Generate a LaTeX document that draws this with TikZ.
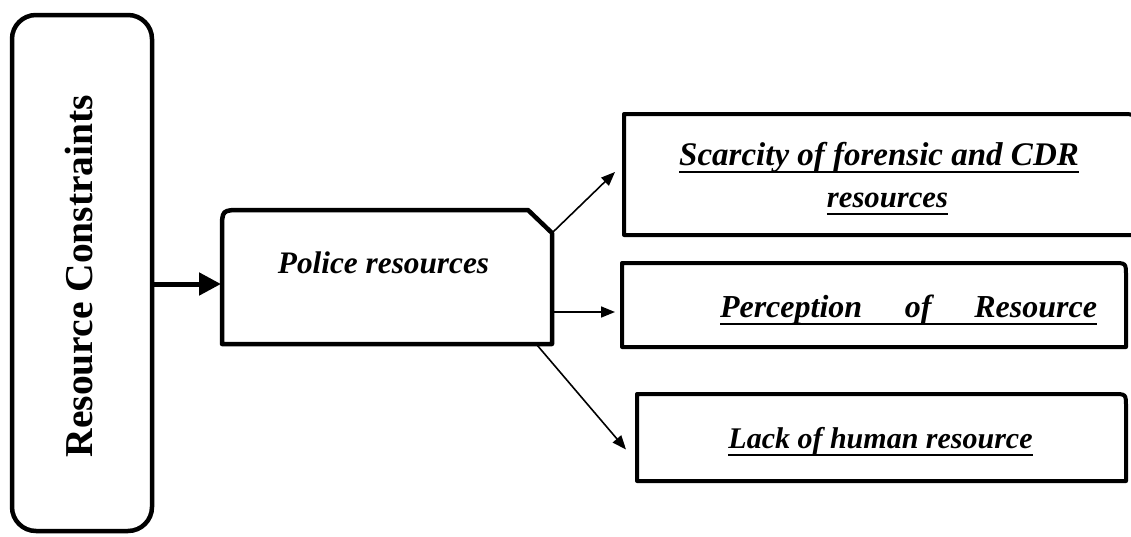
\documentclass[tikz,border=0pt]{standalone}
\usepackage{fontspec}
\setmainfont{Liberation Serif}
\usetikzlibrary{arrows.meta,calc}
\newcommand\myul[1]{\setbox0\hbox{#1}\rlap{\rule[-8.2pt]{\wd0}{2.4pt}}\box0}
\begin{document}
\begin{tikzpicture}[x=1pt,y=-1pt,
  area/.style={inner sep=0pt, outer sep=0pt, minimum width=#1},
  frame/.style={line width=4.5pt, line join=round},
  sframe/.style={line width=4pt, line join=round},
  txt/.style={font=\fontsize{#1}{#1}\selectfont\bfseries\itshape, anchor=base, inner sep=0pt},
  thinarrow/.style={line width=1.6pt, -{Triangle[length=14pt,width=11pt]}},
  thickarrow/.style={line width=5pt, -{Triangle[length=22pt,width=22pt]}}
]
\useasboundingbox (0,0) rectangle (1131,536);
\clip (0,0) rectangle (1131,536);

% placeholder nodes for the boxes
\node[area=140pt, minimum height=516pt] (rc) at (82,273) {};
\node[area=330pt, minimum height=134pt] (police) at (387,277) {};
\node[area=512pt, minimum height=121pt] (b1) at (880,174.5) {};
\node[area=504pt, minimum height=84pt] (b2) at (874,305) {};
\node[area=489pt, minimum height=87pt] (b3) at (881.5,437.5) {};

% left box
\draw[frame, rounded corners=24pt] (rc.south west) rectangle (rc.north east);
\node[rotate=90, anchor=base, inner sep=0pt, font=\fontsize{39.5}{40}\selectfont\bfseries] (rct) at (92,276) {Resource Constraints};

% police box
\draw[frame] (police.south west) -- ($(police.north west)+(0,20)$) .. controls (police.north west) .. ($(police.north west)+(20,0)$)
  -- ($(police.north east)+(-24,0)$) -- ($(police.north east)+(0,23)$) -- (police.south east) -- cycle;
\node[txt=31.3] (pt) at (383.5,273) {Police resources};

% right boxes
\foreach \b/\r in {b1/16,b2/13,b3/13}{
  \draw[sframe] (\b.south west) -- (\b.north west) -- ($(\b.north east)+(-\r,0)$) .. controls (\b.north east) .. ($(\b.north east)+(0,\r)$) -- (\b.south east) -- cycle;
}
\node[txt=33] (t1) at (879,165) {\myul{Scarcity of forensic and CDR}};
\node[txt=30.7] (t1b) at (887.5,207) {\myul{resources}};
\node[txt=32] (t2) at (908.5,317) {\myul{\hbox to 377pt{Perception\hfil of\hfil Resource}}};
\node[txt=30] (t3) at (880.5,448) {\myul{Lack of human resource}};

% connectors
\coordinate (aux) at ([yshift=-7pt]police.west);
\draw[thickarrow, shorten >=1pt] (rc.east |- aux) -- (aux);
\coordinate (snip) at ($(police.north east)+(0,23)$);
\draw[thinarrow] (snip) -- ([xshift=-9pt,yshift=2.5pt]b1.west);
\draw[thinarrow] ([yshift=-35pt]police.east) -- ([xshift=-7pt,yshift=-7pt]b2.west);
\draw[thinarrow] ([xshift=-15pt,yshift=-1pt]police.south east) -- ([xshift=-11pt,yshift=-12pt]b3.west);
\end{tikzpicture}
\end{document}
